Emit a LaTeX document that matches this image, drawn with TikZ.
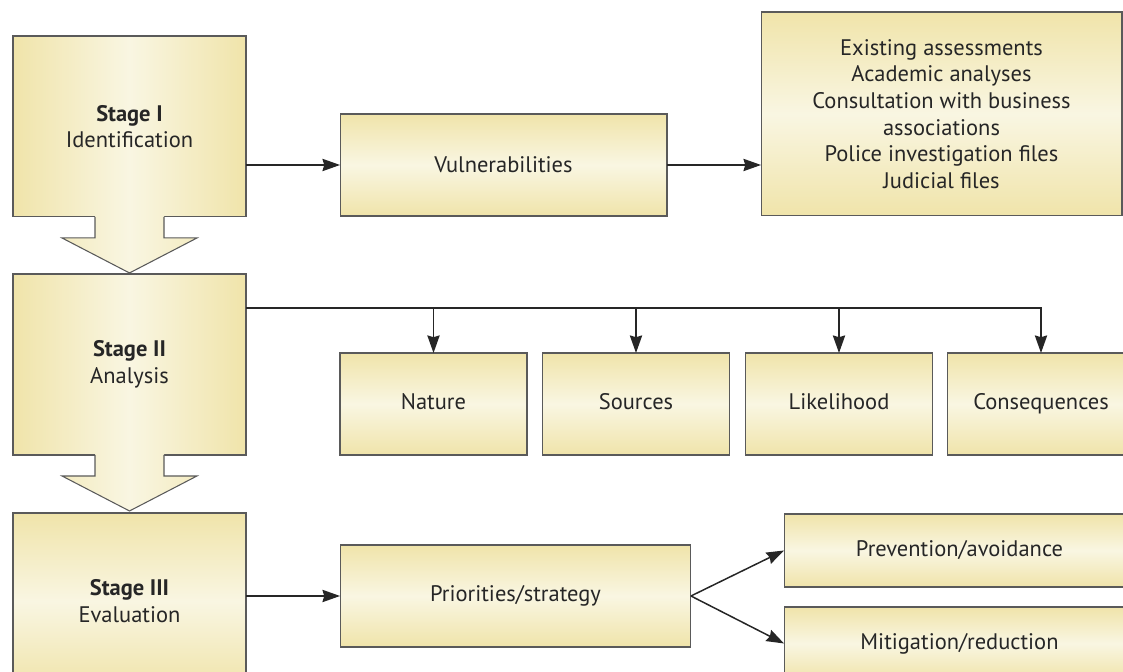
\documentclass[tikz,border=0pt]{standalone}
\usepackage{fontspec}
\setmainfont{PT Sans}
\usepackage{tikz}
\usetikzlibrary{arrows.meta,calc,shadings}
\definecolor{tanedge}{RGB}{240,228,170}
\definecolor{tanmid}{RGB}{249,246,226}
\definecolor{boxline}{RGB}{90,90,90}

\begin{document}
\begin{tikzpicture}[x=0.02cm, y=0.02cm,
	every node/.style={font=\fontsize{12.8}{15.2}\selectfont, text=black!85},
	box/.style={draw=boxline, line width=0.6pt, outer sep=0pt, align=center, top color=tanedge, bottom color=tanedge, middle color=tanmid},
	hshade/.style={left color=tanedge, right color=tanedge, middle color=tanmid},
	stage/.style={box, minimum width=4.66cm, minimum height=3.62cm},
	small/.style={box, minimum width=3.74cm, minimum height=2.04cm, text height=9pt, text depth=3pt},
	link/.style={draw=black!85, line width=0.85pt, -{Stealth[length=10pt,width=7pt,inset=1pt]}}]
	\useasboundingbox (0,0) rectangle (1123,672);
	
	% stages
	\node[stage, hshade] (stage1) at (129.5,545.5) {\textbf{Stage I}\\Identification};
	\node[stage, hshade] (stage2) at (129.5,307.5) {\textbf{Stage II}\\Analysis};
	\node[stage, minimum height=3.52cm] (stage3) at (129.5,71) {\textbf{Stage III}\\Evaluation};
	\foreach \s in {stage1,stage2}{
		\begin{scope}
			\clip ($(\s.south)+(-34.5,1)$) -- ++(0,-22) -- ++(-33,0) -- ++(67.5,-35) -- ++(67.5,35) -- ++(-33,0) -- ++(0,22) -- cycle;
			\shade[hshade] (\s.north west) rectangle ($(\s.south east)+(0,-60)$);
		\end{scope}
		\draw[boxline, line width=0.6pt] ($(\s.south)+(-34.5,0)$) -- ++(0,-21) -- ++(-33,0) -- ++(67.5,-35) -- ++(67.5,35) -- ++(-33,0) -- ++(0,21);
	}
	
	% stage I
	\node[box, minimum width=6.54cm, minimum height=2.04cm] (vuln) at (503.5,507) {Vulnerabilities};
	\node[box, minimum width=7.22cm, minimum height=4.08cm] (inputs) at (941.5,558) {Existing assessments\\Academic analyses\\Consultation with business\\associations\\Police investigation files\\Judicial files};
	
	% stage II
	\foreach \n/\x/\t in {nature/433.5/Nature, src/636/Sources, likely/839/Likelihood, conseq/1041/Consequences}
		\node[small] (\n) at (\x,268) {\t};
	\coordinate (bus) at ($(stage2.north east)+(0,-34)$);
	\draw[link] (bus) -| (conseq.north);
	\foreach \n in {nature,src,likely}
		\draw[link] (bus -| \n.north) -- (\n.north);
	
	% stage III
	\node[box, minimum width=7.02cm, minimum height=2.04cm] (prior) at (515.5,76) {Priorities/strategy};
	\node[box, minimum width=7.02cm, minimum height=1.46cm] (prevent) at (959.5,121.5) {Prevention/avoidance};
	\node[box, minimum width=7.02cm, minimum height=1.46cm] (mitig) at (959.5,28.5) {Mitigation/reduction};
	
	\path[every edge/.style={link}]
	(stage1.east |- vuln.west) edge (vuln.west)
	(vuln.east) edge (vuln.east -| inputs.west)
	(stage3.east |- prior.west) edge (prior.west)
	(prior.east) edge (prevent.west)
	(prior.east) edge (mitig.west)
	;
\end{tikzpicture}
\end{document}
